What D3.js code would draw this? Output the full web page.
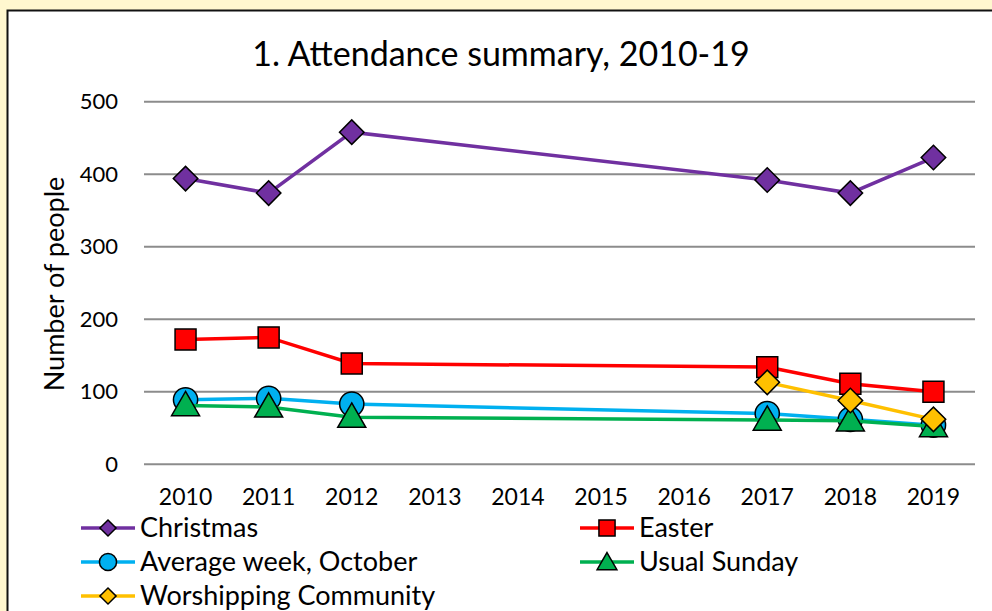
<!DOCTYPE html>
<html>
<head>
<meta charset="utf-8">
<script src="https://cdn.jsdelivr.net/npm/d3@7"></script>
<style>
  body { margin: 0; background: #FFF7CF; }
  svg { display: block; font-family: Lato, "DejaVu Sans", sans-serif; }
</style>
</head>
<body>
<svg width="992" height="611"></svg>
<script>
"use strict"

// категории по оси X
const years = ["2010", "2011", "2012", "2013", "2014", "2015", "2016", "2017", "2018", "2019"]
const yTicks = [0, 100, 200, 300, 400, 500]

// значения рядов (null - нет данных)
const christmas   = [394, 374, 458, null, null, null, null, 392, 374, 423]
const easter      = [172, 175, 139, null, null, null, null, 134, 111, 100]
const avgWeek     = [89, 91, 83, null, null, null, null, 70, 62, 54]
const usualSunday = [81, 79, 65, null, null, null, null, 61, 60, 52]
const worshipping = [null, null, null, null, null, null, null, 113, 88, 62]

const seriesNames = ["Christmas", "Easter", "Average week, October", "Usual Sunday", "Worshipping Community"]
const seriesValues = [christmas, easter, avgWeek, usualSunday, worshipping]
const seriesColors = ["#7030A0", "#FF0000", "#00B0F0", "#00B050", "#FFC000"]
const seriesShapes = ["diamond", "square", "circle", "triangle", "diamond"]

const svg = d3.select("svg")

// рамка графика
svg.append("rect")
    .attr("x", 7.5).attr("y", 10.5)
    .attr("width", 1000).attr("height", 620)
    .style("fill", "white").style("stroke", "#111").style("stroke-width", 2)

const area = { left: 144, right: 975, top: 101.7, bottom: 464.3 }

const scaleX = d3.scaleBand().domain(years).range([area.left, area.right])
const scaleY = d3.scaleLinear().domain([0, 500]).range([area.bottom, area.top])

// заголовок
svg.append("text")
    .attr("x", 501).attr("y", 66)
    .attr("text-anchor", "middle")
    .style("font-size", "34px")
    .text("1. Attendance summary, 2010-19")

// сетка
svg.append("g").selectAll("line")
    .data(yTicks)
    .enter().append("line")
    .attr("x1", area.left).attr("x2", area.right)
    .attr("y1", d => scaleY(d)).attr("y2", d => scaleY(d))
    .style("stroke", "#8c8c8c").style("stroke-width", 2)

// ось Y
const axisY = d3.axisLeft(scaleY).tickValues(yTicks).tickSize(0).tickPadding(26)
const gy = svg.append("g").attr("transform", `translate(${area.left}, 0)`).call(axisY)
gy.select(".domain").remove()
gy.selectAll("text").style("font-size", "22px").style("fill", "#000").style("font-family", "Lato")

// ось X
const axisX = d3.axisBottom(scaleX).tickSize(0).tickPadding(24)
const gx = svg.append("g").attr("transform", `translate(0, ${area.bottom})`).call(axisX)
gx.select(".domain").remove()
gx.selectAll("text").style("font-size", "23px").style("fill", "#000").style("font-family", "Lato")

// подпись оси Y
svg.append("text")
    .attr("transform", "translate(64, 284) rotate(-90)")
    .attr("text-anchor", "middle")
    .style("font-size", "27px")
    .text("Number of people")

function markerPath(shape, size) {
    const s = {
        diamond: d3.symbolSquare, square: d3.symbolSquare,
        circle: d3.symbolCircle, triangle: d3.symbolTriangle
    }[shape]
    return d3.symbol().type(s).size(size)()
}
const markerSize = { diamond: 300, square: 440, circle: 460, triangle: 340 }
const legendSize = { diamond: 130, square: 260, circle: 230, triangle: 170 }

function markerTransform(shape, x, y) {
    let t = `translate(${x}, ${y})`
    if (shape == "diamond") t += " rotate(45)"
    if (shape == "triangle") t += " translate(0, 2)"
    return t
}

// линии и маркеры
seriesValues.forEach((vals, i) => {
    const pts = years.map((y, j) => ({ year: y, value: vals[j] })).filter(d => d.value != null)
    const line = d3.line()
        .x(d => scaleX(d.year) + scaleX.bandwidth() / 2)
        .y(d => scaleY(d.value))
    svg.append("path")
        .datum(pts)
        .attr("d", line)
        .style("fill", "none")
        .style("stroke", seriesColors[i])
        .style("stroke-width", 3.5)
    const shape = seriesShapes[i]
    svg.append("g").selectAll("path")
        .data(pts)
        .enter().append("path")
        .attr("d", markerPath(shape, markerSize[shape]))
        .attr("transform", d => markerTransform(shape, scaleX(d.year) + scaleX.bandwidth() / 2, scaleY(d.value)))
        .style("fill", seriesColors[i])
        .style("stroke", "#000")
        .style("stroke-width", 1.5)
})

// легенда
const legendX = [81, 580]
const legendY = [528, 562, 596]
const legend = svg.append("g").selectAll("g")
    .data(seriesNames)
    .enter().append("g")
    .attr("transform", (d, i) => `translate(${legendX[i % 2]}, ${legendY[Math.floor(i / 2)]})`)

legend.append("line")
    .attr("x1", 0).attr("x2", 54).attr("y1", 0).attr("y2", 0)
    .style("stroke", (d, i) => seriesColors[i])
    .style("stroke-width", 3.5)

legend.append("path")
    .attr("d", (d, i) => markerPath(seriesShapes[i], legendSize[seriesShapes[i]]))
    .attr("transform", (d, i) => markerTransform(seriesShapes[i], 27, 0))
    .style("fill", (d, i) => seriesColors[i])
    .style("stroke", "#000")
    .style("stroke-width", 1.5)

legend.append("text")
    .attr("x", 59).attr("y", 0).attr("dy", "0.35em")
    .style("font-size", "27px")
    .text(d => d)
</script>
</body>
</html>
